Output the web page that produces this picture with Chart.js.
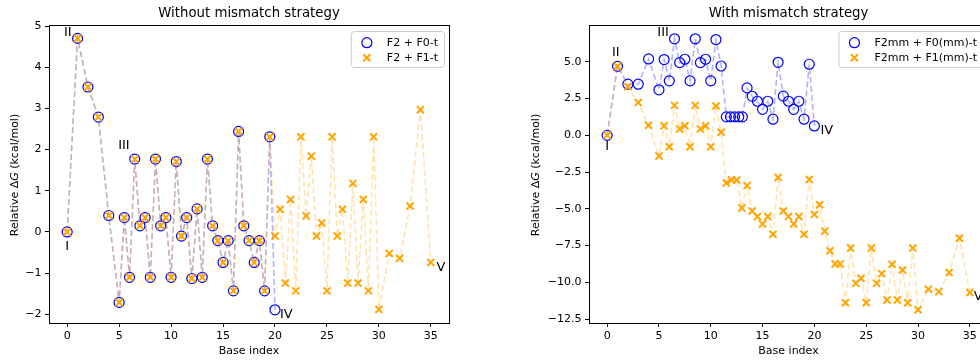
<!DOCTYPE html>
<html>
<head>
<meta charset="utf-8">
<script src="https://cdn.jsdelivr.net/npm/chart.js@4.4.1/dist/chart.umd.min.js"></script>
<style>
  html, body { margin: 0; padding: 0; background: #fff; overflow: hidden; width: 980px; height: 360px; }
  canvas { position: absolute; top: 0; }
</style>
</head>
<body>
<canvas id="left" width="460" height="360" style="left:0"></canvas>
<canvas id="right" width="480" height="360" style="left:520px"></canvas>
<script>
// x ticks shared by both panels
const xTicks = [0, 5, 10, 15, 20, 25, 30, 35];
const leftYTicks = [-2, -1, 0, 1, 2, 3, 4, 5];
const rightYTicks = [-12.5, -10, -7.5, -5, -2.5, 0, 2.5, 5];

// Without mismatch strategy
const leftF0x = [0, 1, 2, 3, 4, 5, 5.5, 6, 6.5, 7, 7.5, 8, 8.5, 9, 9.5, 10, 10.5, 11, 11.5, 12, 12.5, 13, 13.5, 14, 14.5, 15, 15.5, 16, 16.5, 17, 17.5, 18, 18.5, 19, 19.5, 20];
const leftF0 = [0, 4.70, 3.52, 2.79, 0.40, -1.71, 0.35, -1.10, 1.77, 0.15, 0.35, -1.10, 1.77, 0.15, 0.35, -1.10, 1.71, -0.10, 0.35, -1.13, 0.56, -1.10, 1.77, 0.15, -0.21, -0.74, -0.21, -1.43, 2.44, 0.15, -0.21, -0.74, -0.21, -1.43, 2.31, -1.89];
const leftF1x = [0, 1, 2, 3, 4, 5, 5.5, 6, 6.5, 7, 7.5, 8, 8.5, 9, 9.5, 10, 10.5, 11, 11.5, 12, 12.5, 13, 13.5, 14, 14.5, 15, 15.5, 16, 16.5, 17, 17.5, 18, 18.5, 19, 19.5,
  20, 20.5, 21, 21.5, 22, 22.5, 23, 23.5, 24, 24.5, 25, 25.5, 26, 26.5, 27, 27.5, 28, 28.5, 29, 29.5, 30, 31, 32, 33, 34, 35];
const leftF1 = [0, 4.70, 3.52, 2.79, 0.40, -1.71, 0.35, -1.10, 1.77, 0.15, 0.35, -1.10, 1.77, 0.15, 0.35, -1.10, 1.71, -0.10, 0.35, -1.13, 0.56, -1.10, 1.77, 0.15, -0.21, -0.74, -0.21, -1.43, 2.44, 0.15, -0.21, -0.74, -0.21, -1.43, 2.31,
  -0.10, 0.55, -1.24, 0.79, -1.43, 2.31, 0.39, 1.84, -0.10, 0.22, -1.43, 2.31, -0.10, 0.55, -1.24, 1.18, -1.24, 0.79, -1.43, 2.31, -1.88, -0.52, -0.64, 0.63, 2.97, -0.74];

// With mismatch strategy
const rightF0x = [0, 1, 2, 3, 4, 5, 5.5, 6, 6.5, 7, 7.5, 8, 8.5, 9, 9.5, 10, 10.5, 11, 11.5, 11.9, 12.3, 12.7, 13.05, 13.5, 14, 14.5, 15, 15.5, 16, 16.5, 17, 17.5, 18, 18.5, 19, 19.5, 20];
const rightF0 = [0, 4.70, 3.48, 3.48, 5.20, 3.10, 5.16, 3.71, 6.57, 4.95, 5.18, 3.71, 6.57, 4.95, 5.18, 3.71, 6.52, 4.72, 1.26, 1.26, 1.26, 1.26, 1.26, 3.23, 2.66, 2.32, 1.77, 2.32, 1.10, 4.97, 2.67, 2.32, 1.77, 2.32, 1.10, 4.84, 0.64];
const rightF1x = [0, 1, 2, 3, 4, 5, 5.5, 6, 6.5, 7, 7.5, 8, 8.5, 9, 9.5, 10, 10.5, 11, 11.5, 12, 12.5, 13, 13.5, 14, 14.5, 15, 15.5, 16, 16.5, 17, 17.5, 18, 18.5, 19, 19.5,
  20, 20.5, 21, 21.5, 22, 22.5, 23, 23.5, 24, 24.5, 25, 25.5, 26, 26.5, 27, 27.5, 28, 28.5, 29, 29.5, 30, 31, 32, 33, 34, 35];
const rightF1 = [0, 4.70, 3.30, 2.23, 0.69, -1.40, 0.65, -0.78, 2.04, 0.44, 0.65, -0.78, 2.04, 0.44, 0.65, -0.78, 2.00, 0.21, -3.24, -3.04, -3.04, -4.94, -3.42, -5.15, -5.53, -6.03, -5.53, -6.73, -2.87, -5.15, -5.53, -6.03, -5.53, -6.73, -3.00,
  -5.39, -4.72, -6.52, -7.86, -8.75, -8.75, -11.39, -7.67, -10.07, -9.73, -11.39, -7.67, -10.07, -9.41, -11.20, -8.77, -11.20, -9.16, -11.39, -7.67, -11.87, -10.48, -10.64, -9.34, -7.00, -10.70];

const FONT = '"DejaVu Sans", sans-serif';

function minus(s) { return String(s).replace('-', '\u2212'); }

// frame, titles, roman numeral notes and the in-axes legend
const textPlugin = {
  id: 'textPlugin',
  afterDraw(chart, args, o) {
    const { ctx, chartArea: a, scales: { x, y } } = chart;
    ctx.save();
    ctx.strokeStyle = '#000';
    ctx.lineWidth = 1;
    ctx.strokeRect(Math.round(a.left) + 0.5, Math.round(a.top) + 0.5, Math.round(a.right - a.left), Math.round(a.bottom - a.top));

    ctx.fillStyle = '#000';
    ctx.textAlign = 'center';
    ctx.textBaseline = 'middle';
    ctx.font = '13.3px ' + FONT;
    ctx.fillText(o.title, (a.left + a.right) / 2, 14);
    ctx.font = '11px ' + FONT;
    ctx.fillText('Base index', (a.left + a.right) / 2, 351);

    // y label with italic G
    const parts = [['Relative \u0394', ''], ['G', 'italic '], [' (kcal/mol)', '']];
    let total = 0;
    parts.forEach(p => { ctx.font = p[1] + '11px ' + FONT; total += ctx.measureText(p[0]).width; });
    ctx.save();
    ctx.translate(o.ylabelX, (a.top + a.bottom) / 2 + 1);
    ctx.rotate(-Math.PI / 2);
    ctx.textAlign = 'left';
    let cx = -total / 2;
    parts.forEach(p => { ctx.font = p[1] + '11px ' + FONT; ctx.fillText(p[0], cx, 0); cx += ctx.measureText(p[0]).width; });
    ctx.restore();

    ctx.font = '13px ' + FONT;
    ctx.textAlign = 'center';
    o.notes.forEach(n => ctx.fillText(n[0], x.getPixelForValue(n[1]), y.getPixelForValue(n[2])));

    // legend
    ctx.font = '11px ' + FONT;
    const tw = Math.max(...o.legend.map(t => ctx.measureText(t).width));
    const w = tw + 42, h = 36;
    const bx = a.right - 5 - w, by = a.top + 6;
    ctx.beginPath();
    ctx.roundRect(bx + 0.5, by + 0.5, w, h, 3);
    ctx.fillStyle = 'rgba(255,255,255,0.8)';
    ctx.fill();
    ctx.strokeStyle = '#cccccc';
    ctx.stroke();
    const r1 = by + 11.7, r2 = by + 26.7, mx = bx + 16;
    ctx.strokeStyle = '#0000ff';
    ctx.lineWidth = 1.2;
    ctx.beginPath();
    ctx.arc(mx, r1, 5, 0, Math.PI * 2);
    ctx.stroke();
    ctx.strokeStyle = '#ffa500';
    ctx.lineWidth = 2;
    ctx.beginPath();
    ctx.moveTo(mx - 3.5, r2 - 3.5); ctx.lineTo(mx + 3.5, r2 + 3.5);
    ctx.moveTo(mx + 3.5, r2 - 3.5); ctx.lineTo(mx - 3.5, r2 + 3.5);
    ctx.stroke();
    ctx.fillStyle = '#000';
    ctx.textAlign = 'left';
    ctx.fillText(o.legend[0], bx + 36, r1);
    ctx.fillText(o.legend[1], bx + 36, r2);
    ctx.restore();
  }
};

function pts(xs, ys) { return xs.map((v, i) => ({ x: v, y: ys[i] })); }

function makeChart(id, cfg) {
  return new Chart(document.getElementById(id), {
    type: 'line',
    data: {
      datasets: [
        {
          label: cfg.legend[0], data: pts(cfg.x0, cfg.y0), order: 2,
          borderColor: 'rgba(0,0,255,0.3)', borderWidth: 1.6, borderDash: [6, 3],
          pointStyle: 'circle', pointRadius: 5, pointBorderWidth: 1.2,
          pointBorderColor: '#0000ff', pointBackgroundColor: 'rgba(0,0,0,0)', fill: false, tension: 0
        },
        {
          label: cfg.legend[1], data: pts(cfg.x1, cfg.y1), order: 1,
          borderColor: 'rgba(255,165,0,0.3)', borderWidth: 1.6, borderDash: [6, 3],
          pointStyle: 'crossRot', pointRadius: 5, pointBorderWidth: 2,
          pointBorderColor: '#ffa500', pointBackgroundColor: '#ffa500', fill: false, tension: 0
        }
      ]
    },
    options: {
      responsive: false,
      animation: false,
      devicePixelRatio: 1,
      layout: { padding: { top: 25, right: cfg.padRight, left: 0, bottom: 0 } },
      plugins: {
        legend: { display: false },
        tooltip: { enabled: false },
        textPlugin: { title: cfg.title, ylabelX: cfg.ylabelX, notes: cfg.notes, legend: cfg.legend }
      },
      scales: {
        x: {
          type: 'linear', min: -1.75, max: 36.75,
          afterBuildTicks: s => { s.ticks = xTicks.map(v => ({ value: v })); },
          afterFit: s => { s.height = 37; },
          ticks: { color: '#000', padding: 3, font: { family: FONT, size: 11 }, callback: v => String(v) },
          grid: { drawOnChartArea: false, tickLength: 4, color: '#000' },
          border: { color: '#000' }
        },
        y: {
          type: 'linear', min: cfg.yMin, max: cfg.yMax,
          afterBuildTicks: s => { s.ticks = cfg.yTicks.map(v => ({ value: v })); },
          afterFit: s => { s.width = cfg.yWidth; },
          ticks: { color: '#000', padding: 3.5, font: { family: FONT, size: 11 }, callback: cfg.fmt },
          grid: { drawOnChartArea: false, tickLength: 4, color: '#000' },
          border: { color: '#000' }
        }
      }
    },
    plugins: [textPlugin]
  });
}

makeChart('left', {
  title: 'Without mismatch strategy',
  legend: ['F2 + F0-t', 'F2 + F1-t'],
  x0: leftF0x, y0: leftF0, x1: leftF1x, y1: leftF1,
  yMin: -2.21, yMax: 5.025, yTicks: leftYTicks, yWidth: 49, padRight: 11, ylabelX: 15,
  fmt: v => minus(v),
  notes: [['I', 0, -0.36], ['II', 0.06, 4.85], ['III', 5.46, 2.09], ['IV', 21.1, -2.01], ['V', 35.97, -0.87]]
});

makeChart('right', {
  title: 'With mismatch strategy',
  legend: ['F2mm + F0(mm)-t', 'F2mm + F1(mm)-t'],
  x0: rightF0x, y0: rightF0, x1: rightF1x, y1: rightF1,
  yMin: -12.77, yMax: 7.51, yTicks: rightYTicks, yWidth: 69, padRight: 12, ylabelX: 16,
  fmt: v => minus(Number(v).toFixed(1)),
  notes: [['I', 0, -0.77], ['II', 0.84, 5.66], ['III', 5.4, 7.02], ['IV', 21.2, 0.30], ['V', 35.8, -10.98]]
});
</script>
</body>
</html>
